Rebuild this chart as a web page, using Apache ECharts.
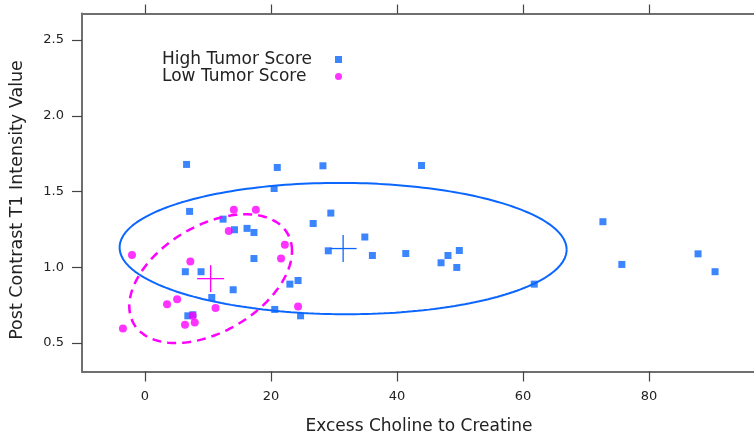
<!DOCTYPE html>
<html>
<head>
<meta charset="utf-8">
<script src="https://cdn.jsdelivr.net/npm/echarts@6/dist/echarts.min.js"></script>
<style>
html,body{margin:0;padding:0;background:#fff;}
#chart{width:754px;height:434px;}
</style>
</head>
<body>
<div id="chart"></div>
<script>
// ---- Data ----
const highX = [6.6, 21.0, 28.25, 20.5, 43.9, 7.08, 12.4, 14.2, 16.2, 17.3, 17.3, 26.7, 29.5, 29.1, 34.9, 36.1,
               6.4, 8.9, 14.0, 10.6, 23.0, 24.3, 20.6, 24.7, 6.8, 7.6, 41.4, 47.0, 48.1, 49.9, 49.5, 61.8,
               72.7, 75.7, 87.8, 90.5];
const highY = [1.679, 1.659, 1.670, 1.520, 1.672, 1.369, 1.318, 1.248, 1.257, 1.230, 1.058, 1.289, 1.358, 1.109, 1.200, 1.078,
               0.971, 0.971, 0.852, 0.801, 0.889, 0.913, 0.722, 0.680, 0.680, 0.687, 1.091, 1.030, 1.078, 1.111, 0.999, 0.889,
               1.301, 1.019, 1.089, 0.971];
const lowX = [-2.06, -3.5, 7.2, 3.5, 5.1, 6.35, 7.9, 7.56, 11.2, 14.1, 13.3, 17.6, 22.2, 21.6, 24.3];
const lowY = [1.081, 0.596, 1.039, 0.757, 0.790, 0.621, 0.636, 0.680, 0.731, 1.380, 1.239, 1.380, 1.149, 1.058, 0.742];
const xTicks = [0, 20, 40, 60, 80];
const yTicks = [0.5, 1.0, 1.5, 2.0, 2.5];
const seriesNames = ['High Tumor Score', 'Low Tumor Score'];
const ellipseScale = 1.53;

// ---- helpers ----
function stats(xs, ys) {
  const n = xs.length;
  const mx = xs.reduce((a, b) => a + b, 0) / n;
  const my = ys.reduce((a, b) => a + b, 0) / n;
  let sxx = 0, syy = 0, sxy = 0;
  for (let i = 0; i < n; i++) {
    const dx = xs[i] - mx, dy = ys[i] - my;
    sxx += dx * dx; syy += dy * dy; sxy += dx * dy;
  }
  return { mx, my, sxx: sxx / (n - 1), syy: syy / (n - 1), sxy: sxy / (n - 1) };
}
function ellipsePts(s, k) {
  const a = Math.sqrt(s.sxx);
  const b = s.sxy / a;
  const c = Math.sqrt(Math.max(s.syy - b * b, 0));
  const pts = [];
  for (let i = 0; i <= 240; i++) {
    const t = i / 240 * 2 * Math.PI;
    pts.push([s.mx + k * a * Math.cos(t), s.my + k * (b * Math.cos(t) + c * Math.sin(t))]);
  }
  return pts;
}
const zip = (xs, ys) => xs.map((x, i) => [x, ys[i]]);

const BLUE = '#0a66ff';
const MAG = '#ff00ff';
const sHigh = stats(highX, highY);
const sLow = stats(lowX, lowY);

const chart = echarts.init(document.getElementById('chart'), null, { renderer: 'canvas' });
const axisLineStyle = { color: '#6f6f6f', width: 2 };
const tickStyle = { color: '#444', width: 1.2 };
const FONT = 'DejaVu Sans';

chart.setOption({
  animation: false,
  backgroundColor: '#ffffff',
  grid: { left: 82, right: -2, top: 13.5, bottom: 62.5, containLabel: false, outerBoundsMode: 'none' },
  legend: {
    data: seriesNames,
    orient: 'vertical',
    align: 'right',
    left: 157,
    top: 46,
    itemGap: 0,
    itemWidth: 7,
    itemHeight: 7,
    formatter: n => '{t|' + n + '}',
    textStyle: {
      fontFamily: FONT, fontSize: 17, color: '#222',
      rich: { t: { width: 168, align: 'left', fontFamily: FONT, fontSize: 17, color: '#222' } }
    },
    selectedMode: false
  },
  xAxis: [
    {
      type: 'value', min: -10, max: 97, position: 'bottom',
      axisLine: { show: true, onZero: false, lineStyle: axisLineStyle },
      axisTick: { show: true, length: 10, lineStyle: tickStyle, customValues: xTicks },
      axisLabel: { customValues: xTicks, margin: 19, fontFamily: FONT, fontSize: 13, color: '#222' },
      splitLine: { show: false },
      name: 'Excess Choline to Creatine', nameLocation: 'middle', nameGap: 47,
      nameTextStyle: { fontFamily: FONT, fontSize: 17, color: '#222' }
    },
    {
      type: 'value', min: -10, max: 97, position: 'top',
      axisLine: { show: true, onZero: false, lineStyle: axisLineStyle },
      axisTick: { show: true, length: 9, lineStyle: tickStyle, customValues: xTicks },
      axisLabel: { show: false },
      splitLine: { show: false }
    }
  ],
  yAxis: {
    type: 'value', min: 0.3125, max: 2.675,
    axisLine: { show: true, onZero: false, lineStyle: axisLineStyle },
    axisTick: { show: true, length: 10, lineStyle: tickStyle, customValues: yTicks },
    axisLabel: { customValues: yTicks, margin: 18, fontFamily: FONT, fontSize: 13, color: '#222',
                 formatter: v => v.toFixed(1) },
    splitLine: { show: false }
  },
  graphic: [{
    type: 'text',
    x: 17.5, y: 200,
    rotation: Math.PI / 2,
    style: { text: 'Post Contrast T1 Intensity Value', fontFamily: FONT, fontSize: 17.5, fill: '#222',
             align: 'center', verticalAlign: 'middle' }
  }],
  series: [
    {
      name: seriesNames[0], type: 'scatter', symbol: 'rect', symbolSize: 7,
      itemStyle: { color: BLUE }, data: zip(highX, highY), z: 3
    },
    {
      name: seriesNames[1], type: 'scatter', symbol: 'circle', symbolSize: 8,
      itemStyle: { color: MAG }, data: zip(lowX, lowY), z: 4
    },
    {
      name: 'High ellipse', type: 'line', showSymbol: false, silent: true, smooth: false,
      lineStyle: { color: BLUE, width: 2 }, data: ellipsePts(sHigh, ellipseScale), z: 5
    },
    {
      name: 'Low ellipse', type: 'line', showSymbol: false, silent: true, smooth: false,
      lineStyle: { color: MAG, width: 2.5, type: [9, 6] }, data: ellipsePts(sLow, ellipseScale), z: 5
    },
    {
      name: 'Means', type: 'custom', silent: true, z: 6,
      data: [[sHigh.mx, sHigh.my, 0], [sLow.mx, sLow.my, 1]],
      encode: { x: 0, y: 1 },
      renderItem: function (params, api) {
        const p = api.coord([api.value(0), api.value(1)]);
        const col = api.value(2) === 0 ? BLUE : MAG;
        const r = 13.5;
        return {
          type: 'group',
          children: [
            { type: 'line', shape: { x1: p[0] - r, y1: p[1], x2: p[0] + r, y2: p[1] }, style: { stroke: col, lineWidth: 1.3 } },
            { type: 'line', shape: { x1: p[0], y1: p[1] - r, x2: p[0], y2: p[1] + r }, style: { stroke: col, lineWidth: 1.3 } }
          ]
        };
      }
    }
  ]
});
</script>
</body>
</html>
